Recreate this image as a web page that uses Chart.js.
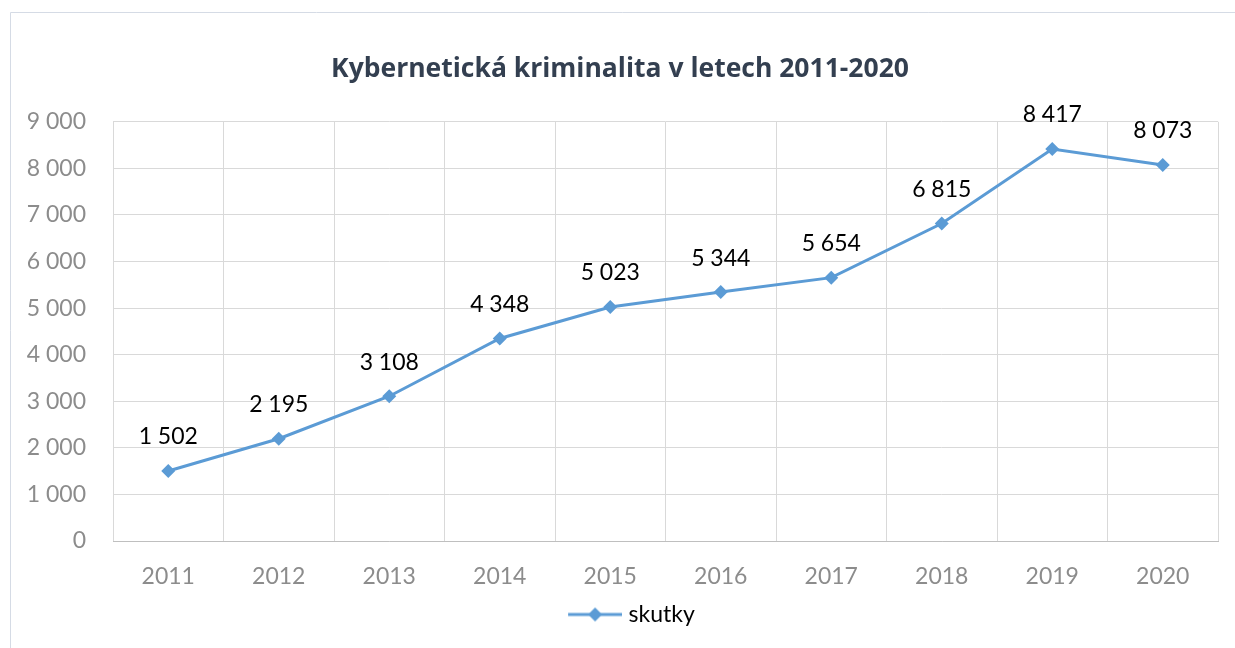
<!DOCTYPE html>
<html>
<head>
<meta charset="utf-8">
<script src="https://cdn.jsdelivr.net/npm/chart.js@4.4.1/dist/chart.umd.min.js"></script>
<style>
  html, body { margin: 0; padding: 0; background: #fff; }
  #wrap { width: 1235px; height: 648px; }
</style>
</head>
<body>
<div id="wrap"><canvas id="chart" width="1235" height="648"></canvas></div>
<script>
// data
var roky = ["2011", "2012", "2013", "2014", "2015", "2016", "2017", "2018", "2019", "2020"];
var skutky = [1502, 2195, 3108, 4348, 5023, 5344, 5654, 6815, 8417, 8073];
var nadpis = "Kybernetická kriminalita v letech 2011-2020";

var modra = "#5B9BD5";
var pismo = "Lato";

function cislo(v) {
  return String(v).replace(/\B(?=(\d{3})+(?!\d))/g, " ");
}

// ikonka do legendy: cara s kosoctvercem (vlevo prazdne misto kvuli posunu)
var ikona = document.createElement("canvas");
ikona.width = 82;
ikona.height = 16;
var ic = ikona.getContext("2d");
ic.strokeStyle = modra;
ic.lineWidth = 3;
ic.beginPath();
ic.moveTo(28, 8);
ic.lineTo(82, 8);
ic.stroke();
ic.fillStyle = modra;
ic.beginPath();
ic.moveTo(55, 1);
ic.lineTo(62, 8);
ic.lineTo(55, 15);
ic.lineTo(48, 8);
ic.closePath();
ic.fill();

// ramecek kolem grafu
var ramecek = {
  id: "ramecek",
  beforeDraw: function (chart) {
    var c = chart.ctx;
    c.save();
    c.strokeStyle = "#d5dbe5";
    c.lineWidth = 1;
    c.beginPath();
    c.moveTo(10.5, 648);
    c.lineTo(10.5, 12.5);
    c.lineTo(1235, 12.5);
    c.stroke();
    c.restore();
  }
};

// popisky hodnot nad body
var popisky = {
  id: "popisky",
  afterDatasetsDraw: function (chart) {
    var c = chart.ctx;
    var meta = chart.getDatasetMeta(0);
    c.save();
    c.font = "23px " + pismo;
    c.fillStyle = "#000";
    c.textAlign = "center";
    c.textBaseline = "middle";
    meta.data.forEach(function (pt, i) {
      c.fillText(cislo(skutky[i]), pt.x, pt.y - 34);
    });
    c.restore();
  }
};

var ctx = document.getElementById("chart").getContext("2d");

var chart = new Chart(ctx, {
  type: "line",
  data: {
    labels: roky,
    datasets: [
      {
        label: "skutky",
        data: skutky,
        borderColor: modra,
        backgroundColor: modra,
        borderWidth: 3,
        pointStyle: "rectRot",
        pointRadius: 7,
        pointBorderWidth: 0,
        pointBackgroundColor: modra,
        tension: 0
      }
    ]
  },
  options: {
    responsive: false,
    animation: false,
    layout: { padding: { left: 22, right: 17, top: 0, bottom: 12 } },
    plugins: {
      title: {
        display: true,
        text: nadpis,
        color: "#333f50",
        font: { family: "Open Sans", size: 26.5, weight: "bold", lineHeight: 1.2 },
        padding: { top: 54, bottom: 36 }
      },
      legend: {
        position: "bottom",
        labels: {
          usePointStyle: true,
          pointStyle: ikona,
          pointStyleWidth: 72,
          padding: 8,
          color: "#000",
          font: { family: pismo, size: 23 }
        }
      },
      tooltip: { enabled: false }
    },
    scales: {
      x: {
        offset: true,
        grid: { offset: true, color: "#d9d9d9", drawTicks: false },
        border: { color: "#bfbfbf" },
        ticks: { color: "#8c8c8c", padding: 22, font: { family: pismo, size: 23 } },
        afterFit: function (s) { s.height = 54; }
      },
      y: {
        min: 0,
        max: 9000,
        grid: { color: "#d9d9d9", drawTicks: false },
        border: { display: false },
        ticks: {
          stepSize: 1000,
          color: "#8c8c8c",
          padding: 27,
          font: { family: pismo, size: 23 },
          callback: function (v) { return cislo(v); }
        },
        afterFit: function (s) { s.width = 91; }
      }
    }
  },
  plugins: [ramecek, popisky]
});
</script>
</body>
</html>
